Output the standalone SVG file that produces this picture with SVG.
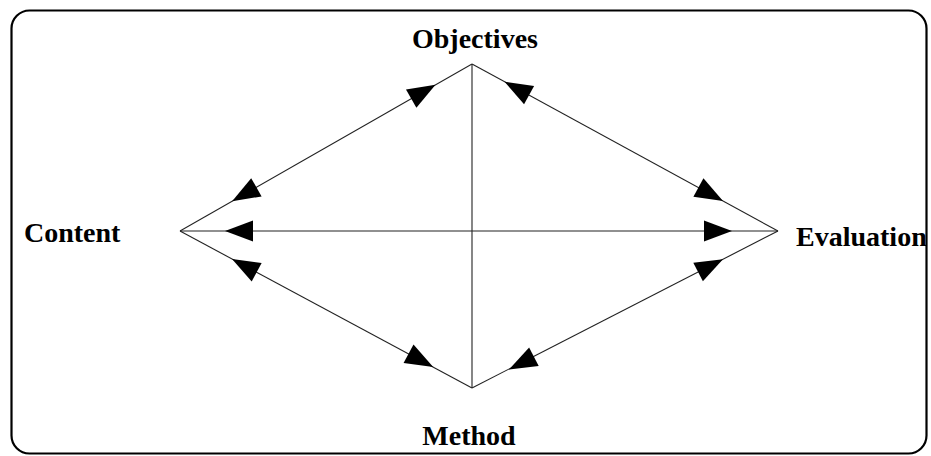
<svg xmlns="http://www.w3.org/2000/svg" xmlns:xlink="http://www.w3.org/1999/xlink" width="931" height="456" viewBox="0 0 931 456">
<style>
.lbl{font-family:"Liberation Serif","Times New Roman",serif;font-weight:bold;font-size:28px;fill:#000}
.ln{stroke:#222;stroke-width:1.1;fill:none}
</style>
<defs>
<polygon id="ah" points="0,0 -28,-10.5 -28,10.5" fill="#000"/>
</defs>
<rect x="11.5" y="10.5" width="915" height="443" rx="18" ry="18" fill="#fff" stroke="#000" stroke-width="2.2"/>
<g id="connectors">
<line class="ln" x1="472" y1="64" x2="180" y2="231"/>
<line class="ln" x1="472" y1="64" x2="778" y2="231"/>
<line class="ln" x1="472" y1="388" x2="180" y2="231"/>
<line class="ln" x1="472" y1="388" x2="778" y2="231"/>
<line class="ln" x1="472" y1="64" x2="472" y2="388"/>
<line class="ln" x1="180" y1="231" x2="778" y2="231" stroke-width="1.4"/>
<use xlink:href="#ah" transform="translate(435.5,84.8) rotate(-29.76)"/>
<use xlink:href="#ah" transform="translate(232.1,201.2) rotate(150.24)"/>
<use xlink:href="#ah" transform="translate(504.5,81.7) rotate(208.62)"/>
<use xlink:href="#ah" transform="translate(723,201) rotate(28.62)"/>
<use xlink:href="#ah" transform="translate(232,259) rotate(208.27)"/>
<use xlink:href="#ah" transform="translate(433.2,367.1) rotate(28.27)"/>
<use xlink:href="#ah" transform="translate(723,259.2) rotate(-27.16)"/>
<use xlink:href="#ah" transform="translate(509,369.5) rotate(152.84)"/>
<use xlink:href="#ah" transform="translate(225,231) rotate(180)"/>
<use xlink:href="#ah" transform="translate(732,231) rotate(0)"/>
</g>
<g id="objectives"><text class="lbl" x="475" y="48" text-anchor="middle">Objectives</text></g>
<g id="content"><text class="lbl" x="24" y="242">Content</text></g>
<g id="evaluation"><text class="lbl" x="796" y="246">Evaluation</text></g>
<g id="method"><text class="lbl" x="469" y="445" text-anchor="middle">Method</text></g>
</svg>
